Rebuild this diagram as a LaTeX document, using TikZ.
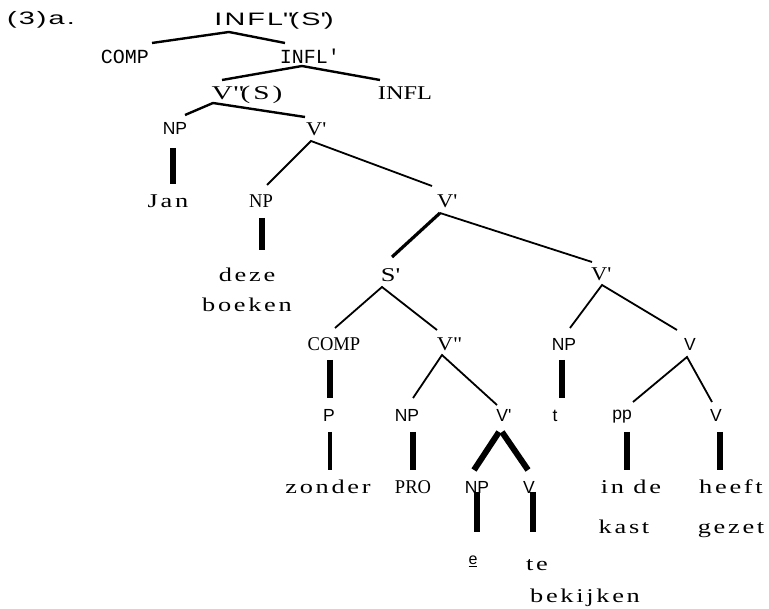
\documentclass[tikz,border=0pt]{standalone}
\usepackage{fontspec}
\setmainfont{Liberation Serif}
\newfontfamily\ssf{Liberation Sans}
\newfontfamily\monof{Liberation Mono}
\newfontfamily\serifc[FakeStretch=0.95]{Liberation Serif}
\newfontfamily\serst[FakeStretch=1.15]{Liberation Serif}
\newfontfamily\sersp[FakeStretch=1.35,LetterSpace=14]{Liberation Serif}
\newfontfamily\serwide[FakeStretch=1.5,LetterSpace=15]{Liberation Serif}
\newfontfamily\sswide[FakeStretch=1.6,LetterSpace=12]{Liberation Sans}
\usetikzlibrary{calc}
\tikzset{
 lbl/.style={inner sep=0pt, anchor=base},
 sans/.style={lbl, font=\ssf\fontsize{17.5}{20}\selectfont},
 word/.style={lbl, font=\sersp\fontsize{19.5}{23}\selectfont},
 cond/.style={lbl, font=\serifc\fontsize{19.5}{23}\selectfont},
 ser/.style={lbl, font=\serst\fontsize{19.5}{23}\selectfont},
 ttl/.style={lbl, font=\monof\fontsize{20}{23}\selectfont},
 br/.style={line width=1.8pt},
 brt/.style={line width=2.4pt},
 bar/.style={line width=6pt},
}
\begin{document}
\begin{tikzpicture}[x=1pt,y=-1pt]
\useasboundingbox (0,0) rectangle (769,609);
% labels
\node[lbl, font=\sswide\fontsize{18}{20}\selectfont] (ex) at (41,25) {(3)a.};
\node[lbl, font=\sswide\fontsize{18}{20}\selectfont] (top) at (274,26) {INFL\textquotedbl(S\textquotesingle)};
\node[ttl] (compA) at (125,64) {COMP};
\node[ttl] (inflbar) at (310,64) {INFL\textquotesingle};
\node[lbl, font=\serwide\fontsize{19.5}{23}\selectfont] (vs) at (247,100) {V\textquotedbl(S)};
\node[lbl, font=\rmfamily\addfontfeature{FakeStretch=1.25}\fontsize{19.5}{23}\selectfont] (infl) at (405,100) {INFL};
\node[sans] (npA) at (175,135) {NP};
\node[ser] (vA) at (316,136) {V\textquotesingle};
\node[word] (jan) at (168,208) {Jan};
\node[cond] (npB) at (261,208) {NP};
\node[ser] (vB) at (447,208) {V\textquotesingle};
\node[word] (deze) at (247,282) {deze};
\node[word] (boeken) at (247,312) {boeken};
\node[word] (sbar) at (390,282) {S\textquotesingle};
\node[ser] (vC) at (601,281) {V\textquotesingle};
\node[cond] (compB) at (334,351) {COMP};
\node[ser] (vD) at (449,351) {V\textquotedbl};
\node[sans] (npC) at (564,351) {NP};
\node[sans] (vE) at (690,351) {V};
\node[sans] (p) at (329,422) {P};
\node[sans] (npD) at (407,422) {NP};
\node[sans] (vF) at (504,422) {V\textquotesingle};
\node[sans] (t) at (555,422) {t};
\node[sans] (pp) at (622,420) {pp};
\node[sans] (vG) at (716,422) {V};
\node[word] (zonder) at (328,494) {zonder};
\node[cond] (pro) at (413,494) {PRO};
\node[sans] (npE) at (477,494) {NP};
\node[sans] (vH) at (529,494) {V};
\node[word] (inde) at (631,494) {in de};
\node[word] (heeft) at (731,494) {heeft};
\node[word] (kast) at (624,533) {kast};
\node[word] (gezet) at (731,533) {gezet};
\node[lbl, font=\ssf\fontsize{16}{18}\selectfont] (e) at (473,565) {\underline{e}};
\node[word] (te) at (537,570) {te};
\node[word] (bekijken) at (585,602) {bekijken};
% branches
\draw[brt] ($(compA.base)+(27,-21)$) -- ($(top.base)+(-45,6)$) -- ($(inflbar.base)+(-25,-21)$);
\draw[brt] ($(vs.base)+(-25,-20)$) -- ($(inflbar.base)+(-8,2)$) -- ($(infl.base)+(-25,-20)$);
\draw[brt] ($(npA.base)+(10,-20)$) -- ($(vs.base)+(-34,3)$) -- ($(vA.base)+(-11,-19)$);
\draw[bar] ($(npA.base)+(-2,13)$) -- ($(jan.base)+(5,-24)$);
\draw[br] ($(npB.base)+(6,-23)$) -- ($(vA.base)+(-5,5)$) -- ($(vB.base)+(-15,-22)$);
\draw[bar] ($(npB.base)+(1,10)$) -- ($(deze.base)+(15,-32)$);
\draw[line width=3.2pt] ($(sbar.base)+(2,-25)$) -- ($(vB.base)+(-7,5)$);
\draw[br] ($(vB.base)+(-7,5)$) -- ($(vC.base)+(-9,-19)$);
\draw[br] ($(compB.base)+(1,-23)$) -- ($(sbar.base)+(-8,5)$) -- ($(vD.base)+(-12,-21)$);
\draw[br] ($(npC.base)+(6,-23)$) -- ($(vC.base)+(1,4)$) -- ($(vE.base)+(-13,-21)$);
\draw[bar] ($(compB.base)+(-4,9)$) -- ($(p.base)+(1,-24)$);
\draw[br] ($(npD.base)+(6,-24)$) -- ($(vD.base)+(-7,4)$) -- ($(vF.base)+(-7,-17)$);
\draw[bar] ($(npC.base)+(-2,9)$) -- ($(t.base)+(7,-24)$);
\draw[br] ($(pp.base)+(11,-18)$) -- ($(vE.base)+(-3,6)$) -- ($(vG.base)+(-4,-20)$);
\draw[line width=4.5pt] ($(p.base)+(1,10)$) -- ($(zonder.base)+(2,-24)$);
\draw[bar] ($(npD.base)+(6,10)$) -- ($(pro.base)+(0,-24)$);
\draw[bar] ($(vF.base)+(-5,10)$) -- ($(npE.base)+(-3,-24)$);
\draw[bar] ($(vF.base)+(-2,10)$) -- ($(vH.base)+(-1,-24)$);
\draw[bar] ($(pp.base)+(5,12)$) -- ($(inde.base)+(-4,-24)$);
\draw[bar] ($(vG.base)+(4,10)$) -- ($(heeft.base)+(-11,-24)$);
\draw[bar] ($(npE.base)+(0,-2)$) -- ($(e.base)+(4,-33)$);
\draw[bar] ($(vH.base)+(4,-2)$) -- ($(te.base)+(-4,-38)$);
\end{tikzpicture}
\end{document}
